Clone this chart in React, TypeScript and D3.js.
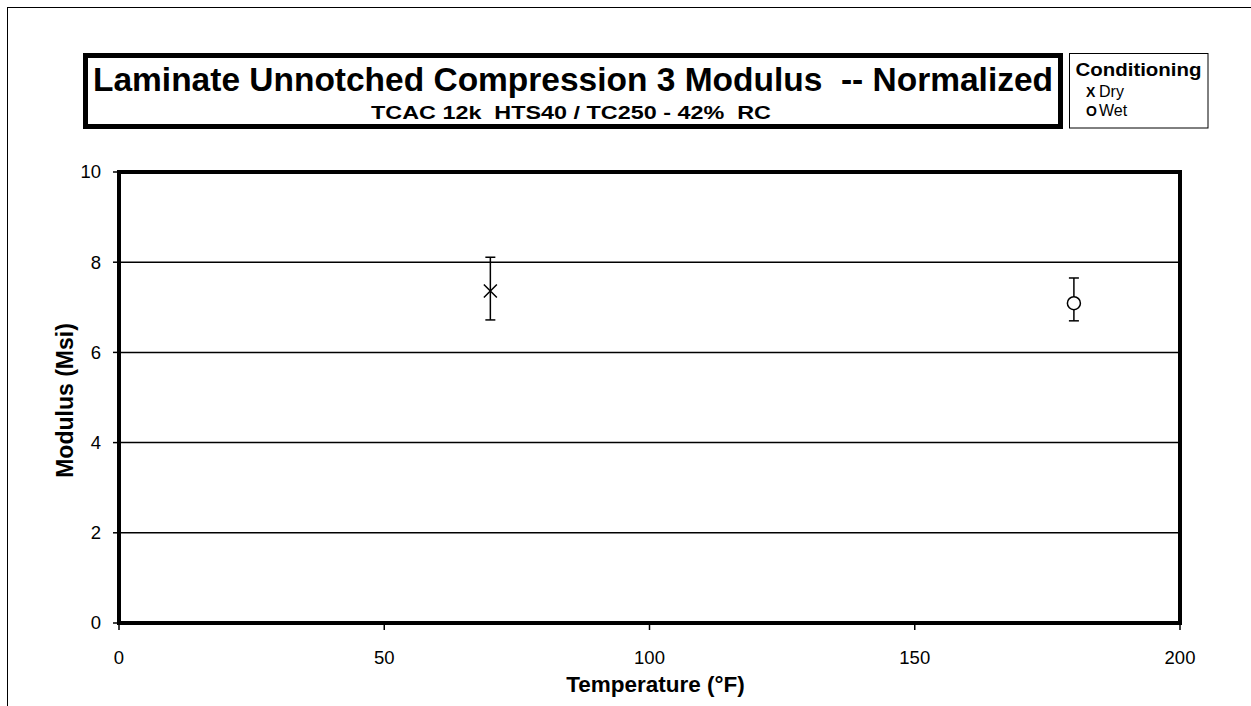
import React from "react";
import * as d3 from "d3";

const seriesNames = ["Dry", "Wet"];
const temperatures = [70, 180];
const meanValues = [7.36, 7.09];
const lowValues = [6.72, 6.7];
const highValues = [8.11, 7.65];
const markerSymbols = ["X", "O"];
const xTicks = [0, 50, 100, 150, 200];
const yTicks = [0, 2, 4, 6, 8, 10];
const gridValues = [2, 4, 6, 8];

const titleText = "Laminate Unnotched Compression 3 Modulus  -- Normalized";
const subtitleText = "TCAC 12k  HTS40 / TC250 - 42%  RC";
const legendTitle = "Conditioning";
const xAxisTitle = "Temperature (\u00B0F)";
const yAxisTitle = "Modulus (Msi)";

const W = 1251;
const H = 706;
const FONT = "Arial, 'Liberation Sans', sans-serif";

export default function App() {
  const x = d3.scaleLinear().domain([0, 200]).range([119, 1180]);
  const y = d3.scaleLinear().domain([0, 10]).range([623, 172]);
  const points = seriesNames.map((name, i) => ({
    name,
    t: temperatures[i],
    m: meanValues[i],
    lo: lowValues[i],
    hi: highValues[i],
    sym: markerSymbols[i],
  }));
  const [x0, x1] = x.range();
  const [y0, y1] = y.range();

  return (
    <svg
      width={W}
      height={H}
      style={{ position: "absolute", left: 0, top: 0, background: "#fff" }}
      fontFamily={FONT}
    >
      <rect x={0} y={0} width={W} height={H} fill="#fff" />
      {/* outer frame */}
      <rect x={7.5} y={7.5} width={1400} height={900} fill="none" stroke="#000" strokeWidth={1} />

      {/* title box */}
      <rect x={85.5} y={55.5} width={975} height={71} fill="#fff" stroke="#000" strokeWidth={5} />
      <text x={573} y={91} textAnchor="middle" fontSize={33} fontWeight="bold" textLength={960} lengthAdjust="spacingAndGlyphs" style={{ whiteSpace: "pre" }}>
        {titleText}
      </text>
      <text x={571} y={119} textAnchor="middle" fontSize={19} fontWeight="bold" textLength={400} lengthAdjust="spacingAndGlyphs" style={{ whiteSpace: "pre" }}>
        {subtitleText}
      </text>

      {/* legend box */}
      <rect x={1069.5} y={53.5} width={138.5} height={74.5} fill="#fff" stroke="#000" strokeWidth={1} />
      <text x={1138.5} y={76} textAnchor="middle" fontSize={19} fontWeight="bold" textLength={126} lengthAdjust="spacingAndGlyphs">
        {legendTitle}
      </text>
      {points.map((p, i) => (
        <g key={p.name}>
          <text x={1086} y={97 + i * 19} fontSize={14} fontWeight="bold">
            {p.sym}
          </text>
          <text x={1099} y={97 + i * 19} fontSize={16}>
            {p.name}
          </text>
        </g>
      ))}

      {/* gridlines */}
      {gridValues.map((v) => (
        <line key={v} x1={x0} x2={x1} y1={y(v)} y2={y(v)} stroke="#000" strokeWidth={1.5} />
      ))}

      {/* plot border */}
      <rect x={x0} y={y1} width={x1 - x0} height={y0 - y1} fill="none" stroke="#000" strokeWidth={4} />

      {/* y ticks */}
      {yTicks.map((v) => (
        <g key={v}>
          <line x1={x0 - 6} x2={x0} y1={y(v)} y2={y(v)} stroke="#000" strokeWidth={1.5} />
          <text x={101} y={y(v)} dy="0.35em" textAnchor="end" fontSize={18.5}>
            {v}
          </text>
        </g>
      ))}
      {/* x ticks */}
      {xTicks.map((v) => (
        <g key={v}>
          <line x1={x(v)} x2={x(v)} y1={y0} y2={y0 + 7} stroke="#000" strokeWidth={1.5} />
          <text x={x(v)} y={664} textAnchor="middle" fontSize={18.5}>
            {v}
          </text>
        </g>
      ))}

      {/* axis titles */}
      <text x={(x0 + x1) / 2 + 6} y={692} textAnchor="middle" fontSize={22.5} fontWeight="bold">
        {xAxisTitle}
      </text>
      <text
        transform={`translate(73, ${(y0 + y1) / 2 + 3}) rotate(-90)`}
        textAnchor="middle"
        fontSize={23}
        fontWeight="bold"
      >
        {yAxisTitle}
      </text>

      {/* data */}
      {points.map((p) => {
        const cx = x(p.t);
        const cy = y(p.m);
        return (
          <g key={p.name} stroke="#000" strokeWidth={1.5} fill="none">
            <line x1={cx} x2={cx} y1={y(p.lo)} y2={y(p.hi)} />
            <line x1={cx - 5} x2={cx + 5} y1={y(p.lo)} y2={y(p.lo)} />
            <line x1={cx - 5} x2={cx + 5} y1={y(p.hi)} y2={y(p.hi)} />
            {p.sym === "X" ? (
              <path d={`M${cx - 6.5},${cy - 6.5}L${cx + 6.5},${cy + 6.5}M${cx - 6.5},${cy + 6.5}L${cx + 6.5},${cy - 6.5}`} />
            ) : (
              <circle cx={cx} cy={cy} r={6.5} fill="#fff" />
            )}
          </g>
        );
      })}
    </svg>
  );
}
